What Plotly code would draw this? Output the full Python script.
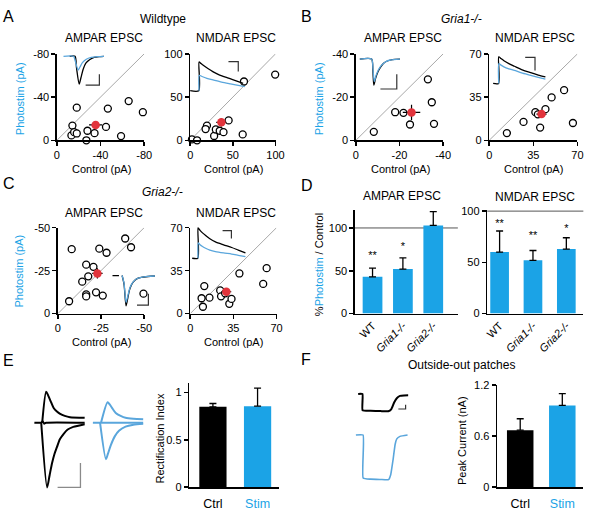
import plotly.graph_objects as go

W, H = 609, 512
FONT = "Liberation Sans, Arial, Helvetica, sans-serif"
BLUE = "#1ba3e6"
TRACE_BLUE = "#5aa6dc"
RED = "#e2343c"

# ---------------- scatter data (Control vs Photostim, pA) ----------------
a_ampa_ctrl = [-18.2, -14.2, -13.3, -15.8, -18.2, -27, -28, -34.5, -45, -46.7, -58.8, -65.8, -78.8]
a_ampa_stim = [-30.2, -13.6, -4.5, -7.5, -6.3, 0, -8.8, -6.6, -12.4, -29.3, -3.9, -36.3, -26]
a_ampa_mean = (-35.5, -14.2)
a_ampa_sem = (6, 3.5)

a_nmda_ctrl = [2, 8, 19.6, 18, 28, 30, 34.6, 39, 45, 61.5, 63, 99.6]
a_nmda_stim = [1, 0, 17, 13, 5, 12.5, 11, 9.4, 23, 6.8, 68, 76]
a_nmda_mean = (36.5, 20.8)
a_nmda_sem = (6, 5)

b_ampa_ctrl = [-8.2, -18, -21.8, -24.8, -33, -34.8, -35.8]
b_ampa_stim = [-3.9, -13, -12.7, -7.3, -28.2, -17.6, -7.6]
b_ampa_mean = (-25.5, -12.9)
b_ampa_sem = (4, 3.5)

b_nmda_ctrl = [14, 27.2, 36.6, 38.6, 40.4, 44.6, 49.5, 59.4, 66.4]
b_nmda_stim = [5.8, 14.9, 22.8, 21, 10.3, 25.2, 34.7, 40.6, 14]
b_nmda_mean = (41.5, 21.2)
b_nmda_sem = (4, 3)

c_ampa_ctrl = [-6.5, -8, -14.1, -16.4, -16.4, -16.4, -17.6, -20.6, -22.1, -24, -26, -28.2, -39, -42.4, -49.6]
c_ampa_stim = [-7.2, -37.5, -18.6, -11.2, -10, -28.5, -21.7, -27.2, -12.4, -37.8, -10.5, -35.4, -43.7, -38.6, -11.6]
c_ampa_mean = (-22.9, -23.4)
c_ampa_sem = (3, 3)

c_nmda_ctrl = [9.2, 10.3, 11.4, 15.6, 24.3, 25, 28.3, 31.7, 33.5, 39.9, 59.2, 62]
c_nmda_stim = [12.5, 5.6, 22.4, 13, 18.9, 14.1, 16.5, 8, 12, 32.7, 24.2, 37]
c_nmda_mean = (29.3, 17.8)
c_nmda_sem = (4, 2.5)

# ---------------- bar data ----------------
d_groups = ["WT", "Gria1-/-", "Gria2-/-"]
d_group_labels = ["WT", "<i>Gria1-/-</i>", "<i>Gria2-/-</i>"]
d_ampa_pct = [43, 52, 103]
d_ampa_err = [10, 13, 16]
d_ampa_stars = ["**", "*", ""]
d_ampa_star_y = [67.5, 77.5, None]
d_nmda_pct = [60, 52, 63]
d_nmda_err = [20.6, 9.6, 11]
d_nmda_stars = ["**", "**", "*"]
d_nmda_star_y = [87.5, 75.5, 82.5]

e_groups = ["Ctrl", "Stim"]
e_rect_index = [0.848, 0.855]
e_rect_err = [0.035, 0.19]

f_groups = ["Ctrl", "Stim"]
f_peak_nA = [0.671, 0.962]
f_peak_err = [0.134, 0.14]
f_stars = ["", "*"]
f_star_y = [None, 1.21]

# ---------------- example traces (time, current; arbitrary units) ----------------
a_ampa_tr_ctrl = [(10, 0), (15.5, 0), (17, -12), (19.7, -28.5), (21.5, -22), (23.7, -13.5), (26.5, -7), (30.3, -3.5), (35, -1.2), (40, -0.3), (45, 0)]
a_ampa_tr_stim = [(3.7, 0), (14, 0), (15.5, -4), (18.7, -14.2), (20.5, -11), (23, -6.5), (27, -3), (32, -1.2), (38, -0.3), (45, 0)]
a_ampa_scale = [(26.3, -29.5), (40.3, -29.5), (40.3, -18.5)]

a_nmda_tr_ctrl = [(1, 0), (9.7, 0), (10, 29.4), (12, 27.8), (15, 25.5), (19, 22.7), (24, 19.5), (30, 16.5), (37, 13.8), (45, 11), (55, 7.5)]
a_nmda_tr_stim = [(10, 0), (10.3, 15.7), (13, 14.5), (18, 12.6), (25, 10.8), (33, 8.8), (42, 7), (50, 5.5), (56.7, 4.2)]
a_nmda_scale = [(40, 29.7), (50, 29.7), (50, 19.7)]

b_ampa_tr_ctrl = [(4, 0), (16, 0), (17.3, -12), (18.3, -26.7), (20, -20), (22.5, -13), (25, -8.5), (28, -4.5), (32, -2), (37, -0.5), (45, 0)]
b_ampa_tr_stim = [(4, 0), (16, 0), (17.4, -10), (18.7, -23), (20.5, -17), (23, -11), (26, -6.5), (30, -3), (35, -1), (45, 0)]
b_ampa_scale = [(25, -30.7), (41.7, -30.7), (41.7, -15.7)]

b_nmda_tr_ctrl = [(4, 0), (9.5, 0), (9.7, 27.3), (12, 25.5), (15, 23.2), (20, 20.3), (25.7, 17.6), (33, 14.2), (42.3, 11), (50, 8.6), (57.3, 6.6)]
b_nmda_tr_stim = [(9.7, 0), (9.9, 20.3), (12, 18.8), (15, 17), (20, 15), (25.7, 13.3), (33, 10.8), (42.3, 8.3), (50, 6.2), (57.3, 4.3)]
b_nmda_scale = [(36.7, 26.6), (46.7, 26.6), (46.7, 13.3)]

c_ampa_tr_ctrl = [(3.7, 0), (10.3, 0), None, (13.5, 0), (15.5, -9), (17.5, -31), (19.3, -23), (21, -15), (22.7, -10.3), (25, -6.5), (28, -3.7), (33, -2), (40, -1), (47, -0.5)]
c_ampa_tr_stim = [(13.5, 0), (15.5, -8), (17.5, -27.5), (19.3, -21), (21, -14), (22.7, -9.8), (25, -6.2), (28, -3.5), (33, -1.8), (40, -0.9), (47, -0.5)]
c_ampa_scale = [(28.7, -30.3), (40.3, -30.3), (40.3, -18.7)]

c_nmda_tr_ctrl = [(3, 0), (8.7, 0), (9, 31), (11, 28.5), (13.5, 26), (16.7, 23.3), (21, 20), (26.7, 16.8), (35, 13.8), (43.3, 11), (50, 8.4), (57.3, 5.6)]
c_nmda_tr_stim = [(9, 0), (9.2, 15.6), (11, 13.8), (13.5, 12), (16.7, 10.2), (21, 8.4), (26.7, 6.8), (35, 5.4), (43.3, 4.3), (50, 3), (57.3, 1.6)]
c_nmda_scale = [(34, 28.3), (43, 28.3), (43, 20.3)]

e_ctrl_flat = [(4, 0), (11, 0), (12.5, 1.5), (14, -1), (16, 0), (55.3, 0)]
e_ctrl_pos = [(12, 0), (16, 31.7), (18, 28), (21, 21), (23.7, 15), (27, 11.5), (30.3, 9), (35, 7), (40.3, 5.7), (55.3, 5)]
e_ctrl_neg = [(11, 0), (17, -66.3), (19.5, -54), (22, -41.6), (24.5, -32), (27, -25), (30, -17), (33.7, -11.6), (38, -7), (43.7, -4.3), (55.3, -1.5)]
e_stim_flat = [(63.7, 0), (115, 0)]
e_stim_pos = [(72, 0), (78.7, 21), (81, 18.5), (84, 14), (87, 10), (92, 7), (97, 5), (105, 4), (115, 3.5)]
e_stim_neg = [(71, 0), (77, -37.3), (79, -32), (82, -23), (86, -14), (90.3, -8.3), (97, -4), (105, -2), (115, -1)]
e_scale = [(27.7, -66.3), (51, -66.3), (51, -41.3)]

f_ctrl_trace = [(7.3, -5.3), (11.7, -5.3), (11.8, -22), (20, -22.5), (30, -22.8), (38, -23), (41, -21), (44, -14), (46.7, -9.7), (50, -7.3), (54, -6.8), (58.3, -6.7)]
f_stim_trace = [(5, -47.3), (12.3, -47.3), (12.4, -91.3), (20, -92.5), (30, -92.8), (38.3, -93), (40.5, -88), (43, -72), (45, -57), (46.7, -51.3), (50, -48.7), (57.7, -47.3)]
f_scale = [(48.3, -20.7), (55.7, -20.7), (55.7, -16.3)]

# ---------------- helpers ----------------
fig = go.Figure()
layout_axes = {}
shapes = []
annotations = []
n_axes = [0]


def add_axes(box, xkw, ykw):
    n_axes[0] += 1
    i = n_axes[0]
    s = "" if i == 1 else str(i)
    left, right, top, bottom = box
    layout_axes["xaxis" + s] = dict(domain=[left / W, right / W], anchor="y" + s, **xkw)
    layout_axes["yaxis" + s] = dict(domain=[1 - bottom / H, 1 - top / H], anchor="x" + s, **ykw)
    return "x" + s, "y" + s


def axis_style(rng, tickvals=None, ticktext=None, **extra):
    d = dict(range=rng, showline=True, linecolor="black", linewidth=1.5,
             ticks="outside", ticklen=4, tickwidth=1.5, tickcolor="black",
             showgrid=False, zeroline=False, fixedrange=True,
             tickfont=dict(size=11, color="black", family=FONT))
    if tickvals is not None:
        d.update(tickmode="array", tickvals=tickvals, ticktext=ticktext)
    d.update(extra)
    return d


def scatter_panel(box, lim, ticks, ctrl, stim, mean, sem):
    txt = [f"{t:g}" for t in ticks]
    xa, ya = add_axes(box, axis_style([0, lim], ticks, txt), axis_style([0, lim], ticks, txt))
    shapes.append(dict(type="line", xref=xa, yref=ya, x0=0, y0=0, x1=lim, y1=lim,
                       line=dict(color="#a8a8a8", width=1), layer="below"))
    fig.add_trace(go.Scatter(x=ctrl, y=stim, xaxis=xa, yaxis=ya, mode="markers", cliponaxis=False,
                             marker=dict(size=7, color="white", line=dict(color="black", width=1.3))))
    fig.add_trace(go.Scatter(x=[mean[0]], y=[mean[1]], xaxis=xa, yaxis=ya, mode="markers", cliponaxis=False,
                             marker=dict(size=8.5, color=RED),
                             error_x=dict(type="data", array=[sem[0]], color="black", thickness=1.2, width=0),
                             error_y=dict(type="data", array=[sem[1]], color="black", thickness=1.2, width=0)))


def line_of(pts, xa, ya, color, width, smooth=0.7):
    xs = [p[0] if p else None for p in pts]
    ys = [p[1] if p else None for p in pts]
    fig.add_trace(go.Scatter(x=xs, y=ys, xaxis=xa, yaxis=ya, mode="lines", cliponaxis=False,
                             line=dict(color=color, width=width, shape="spline", smoothing=smooth)))


def trace_inset(box, base, traces, scale, scale_color="#333333", scale_width=1.2):
    left, right, top, bottom = box
    xa, ya = add_axes(box, dict(range=[0, right - left], visible=False, fixedrange=True),
                      dict(range=[-(bottom - base), base - top], visible=False, fixedrange=True))
    for pts, color, width, smooth in traces:
        line_of(pts, xa, ya, color, width, smooth)
    fig.add_trace(go.Scatter(x=[p[0] for p in scale], y=[p[1] for p in scale], xaxis=xa, yaxis=ya,
                             mode="lines", cliponaxis=False, line=dict(color=scale_color, width=scale_width)))


def bar_panel(box, yrng, yticks, ytext, cats, catlabels, xrng, vals, errs, colors, bw, angle, catsize, standoff=None):
    xkw = dict(type="category", range=xrng, showline=True, linecolor="black", linewidth=1.5,
               ticks="", tickmode="array", tickvals=cats, ticktext=catlabels, tickangle=angle,
               tickfont=dict(size=catsize, color="black", family=FONT),
               showgrid=False, zeroline=False, fixedrange=True)
    if standoff is not None:
        xkw["ticklabelstandoff"] = standoff
    xa, ya = add_axes(box, xkw, axis_style(yrng, yticks, ytext))
    fig.add_trace(go.Bar(x=cats, y=vals, width=bw, xaxis=xa, yaxis=ya, marker=dict(color=colors, line=dict(width=0)),
                         error_y=dict(type="data", array=errs, arrayminus=[0] * len(vals), symmetric=False,
                                      color="black", thickness=1.3, width=3.5)))
    return xa, ya


def stars(xa, ya, cats, ys, texts):
    fig.add_trace(go.Scatter(x=cats, y=ys, text=texts, mode="text", xaxis=xa, yaxis=ya, cliponaxis=False,
                             textposition="middle center", textfont=dict(size=11, color="black", family=FONT)))


def label(text, x, y, size=11, color="black", angle=0):
    annotations.append(dict(text=text, x=x / W, y=1 - y / H, xref="paper", yref="paper", showarrow=False,
                            font=dict(size=size, color=color, family=FONT), textangle=angle,
                            xanchor="center", yanchor="middle"))


# ---------------- scatter panels ----------------
scatter_panel((55, 144, 49, 137.5), -80, [0, -40, -80], a_ampa_ctrl, a_ampa_stim, a_ampa_mean, a_ampa_sem)
scatter_panel((191, 278, 49, 137.5), 100, [0, 50, 100], a_nmda_ctrl, a_nmda_stim, a_nmda_mean, a_nmda_sem)
scatter_panel((360, 449, 49, 137.5), -40, [0, -20, -40], b_ampa_ctrl, b_ampa_stim, b_ampa_mean, b_ampa_sem)
scatter_panel((496, 586, 49, 137.5), 70, [0, 35, 70], b_nmda_ctrl, b_nmda_stim, b_nmda_mean, b_nmda_sem)
scatter_panel((56, 144, 227, 315), -50, [0, -25, -50], c_ampa_ctrl, c_ampa_stim, c_ampa_mean, c_ampa_sem)
scatter_panel((191, 279, 227, 315), 70, [0, 35, 70], c_nmda_ctrl, c_nmda_stim, c_nmda_mean, c_nmda_sem)

# ---------------- insets ----------------
trace_inset((58, 104, 48, 86), 51.5, [(a_ampa_tr_ctrl, "black", 1.3, 0.7), (a_ampa_tr_stim, TRACE_BLUE, 1.3, 0.7)], a_ampa_scale)
trace_inset((190, 250, 52, 90), 86.7, [(a_nmda_tr_ctrl, "black", 1.3, 0.7), (a_nmda_tr_stim, TRACE_BLUE, 1.3, 0.7)], a_nmda_scale)
trace_inset((360, 410, 48, 90), 54.3, [(b_ampa_tr_ctrl, "black", 1.3, 0.7), (b_ampa_tr_stim, TRACE_BLUE, 1.3, 0.7)], b_ampa_scale)
trace_inset((496, 560, 48, 84), 79.3, [(b_nmda_tr_ctrl, "black", 1.3, 0.7), (b_nmda_tr_stim, TRACE_BLUE, 1.3, 0.7)], b_nmda_scale)
trace_inset((108, 156, 270, 312), 276, [(c_ampa_tr_ctrl, "black", 1.3, 0.7), (c_ampa_tr_stim, TRACE_BLUE, 1.3, 0.7)], c_ampa_scale)
trace_inset((190, 250, 222, 262), 258.3, [(c_nmda_tr_ctrl, "black", 1.3, 0.7), (c_nmda_tr_stim, TRACE_BLUE, 1.3, 0.7)], c_nmda_scale)

# ---------------- D ----------------
xa, ya = bar_panel((359, 464, 209.3, 315), [0, 120.5], [0, 50, 100], ["0", "50", "100"], d_groups, d_group_labels,
                   [-0.58, 2.81], d_ampa_pct, d_ampa_err, BLUE, 0.65, -45, 11)
shapes.append(dict(type="line", xref=xa + " domain", yref=ya, x0=0, x1=1, y0=100, y1=100,
                   line=dict(color="#555555", width=1), layer="below"))
stars(xa, ya, d_groups, d_ampa_star_y, d_ampa_stars)

xa, ya = bar_panel((494, 592, 209, 315), [0, 101], [0, 50, 100], ["0", "50", "100"], d_groups, d_group_labels,
                   [-0.37, 2.51], d_nmda_pct, d_nmda_err, BLUE, 0.56, -45, 11)
shapes.append(dict(type="line", xref=xa + " domain", yref=ya, x0=0, x1=1, y0=100, y1=100,
                   line=dict(color="#555555", width=1), layer="below"))
stars(xa, ya, d_groups, d_nmda_star_y, d_nmda_stars)

# ---------------- E ----------------
trace_inset((28, 148, 385, 497), 426.7,
            [(e_ctrl_flat, "black", 2, 0.5), (e_ctrl_pos, "black", 2, 0.7), (e_ctrl_neg, "black", 2, 0.7),
             (e_stim_flat, TRACE_BLUE, 2, 0.5), (e_stim_pos, TRACE_BLUE, 2, 0.7), (e_stim_neg, TRACE_BLUE, 2, 0.7)],
            e_scale, scale_color="#8a8a8a", scale_width=1.3)
stim_lbl = f"<span style='color:{BLUE}'>Stim</span>"
bar_panel((190, 282, 386, 492.7), [0, 1.1], [0, 0.5, 1], ["0", "0.5", "1"], e_groups, ["Ctrl", stim_lbl],
          [-0.53, 1.49], e_rect_index, e_rect_err, ["black", BLUE], 0.61, 0, 12.5, standoff=4)

# ---------------- F ----------------
trace_inset((355, 420, 392, 490), 392,
            [(f_ctrl_trace, "black", 2, 0.4), (f_stim_trace, TRACE_BLUE, 1.6, 0.4)],
            f_scale, scale_color="#333333", scale_width=1.2)
xa, ya = bar_panel((504, 592, 388.3, 492.7), [0, 1.2], [0, 0.6, 1.2], ["0", "0.6", "1.2"], f_groups, ["Ctrl", stim_lbl],
                   [-0.55, 1.5], f_peak_nA, f_peak_err, ["black", BLUE], 0.63, 0, 12.5, standoff=4)
stars(xa, ya, f_groups, f_star_y, f_stars)

# ---------------- text ----------------
for t, x, y in [("A", 6, 10.5), ("B", 310, 10.5), ("C", 6, 182), ("D", 310, 184), ("E", 6, 362.5), ("F", 309, 362)]:
    label(t, x, y, size=16)
for t, x, y in [("Wildtype", 163, 13), ("<i>Gria1-/-</i>", 468, 13), ("<i>Gria2-/-</i>", 163, 190),
                ("Outside-out patches", 468, 368),
                ("AMPAR EPSC", 103, 33), ("NMDAR EPSC", 238, 33), ("AMPAR EPSC", 408, 33), ("NMDAR EPSC", 543, 33),
                ("AMPAR EPSC", 103, 211.7), ("NMDAR EPSC", 238, 211.7),
                ("AMPAR EPSC", 406.7, 195), ("NMDAR EPSC", 542.7, 196)]:
    label(t, x, y, size=12)
for x, y in [(100, 167), (235, 167), (405, 167), (541, 167), (100, 344), (235, 344)]:
    label("Control (pA)", x, y)
for x, y in [(16.7, 95), (321.7, 95), (16.7, 271.5)]:
    label("Photostim (pA)", x, y, color=BLUE, angle=-90)
label(f"%<span style='color:{BLUE}'>Photostim</span> / Control", 321.7, 265, angle=-90)
label("Rectification Index", 160, 443, angle=-90)
label("Peak Current (nA)", 467.7, 445, angle=-90)

fig.update_layout(width=W, height=H, margin=dict(l=0, r=0, t=0, b=0), showlegend=False,
                  paper_bgcolor="white", plot_bgcolor="rgba(0,0,0,0)",
                  font=dict(family=FONT, size=11, color="black"),
                  shapes=shapes, annotations=annotations, **layout_axes)
fig.write_html("out.html", config={"displayModeBar": False, "staticPlot": True},
               post_script="document.body.style.margin='0';document.body.style.padding='0';")
